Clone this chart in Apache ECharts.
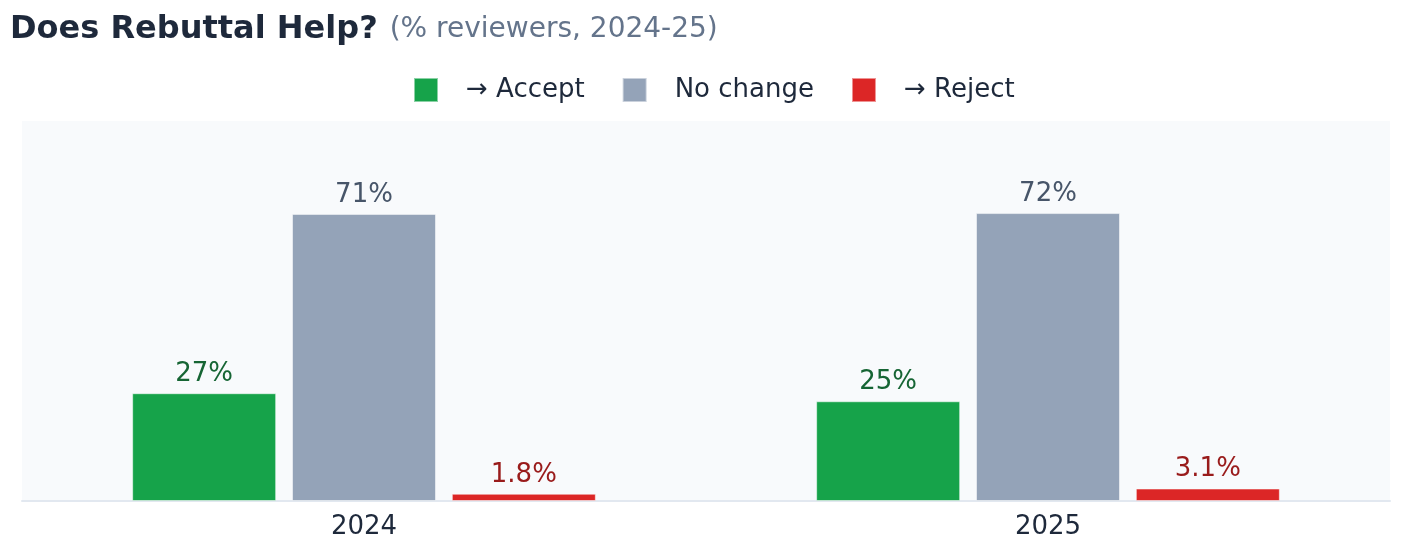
<!DOCTYPE html>
<html>
<head>
<meta charset="utf-8">
<script src="https://cdn.jsdelivr.net/npm/echarts@6/dist/echarts.min.js"></script>
<style>
html, body { margin: 0; padding: 0; background: #fff; }
#chart { width: 1402px; height: 548px; }
</style>
</head>
<body>
<div id="chart"></div>
<script>
var years = ['2024', '2025'];
var seriesNames = ['→ Accept', 'No change', '→ Reject'];
var acceptPct = [26.8, 24.8];
var noChangePct = [71.4, 71.6];
var rejectPct = [1.8, 3.1];

var barColors = ['#16a34a', '#94a3b8', '#dc2626'];
var labelColors = ['#166534', '#475569', '#991b1b'];

function fmtPct(p) {
    var v = p.value;
    return (v >= 10 ? Math.round(v) : v.toFixed(1)) + '%';
}

function makeBar(name, data, i) {
    return {
        name: name,
        type: 'bar',
        data: data,
        barWidth: 144,
        barGap: '11%',
        itemStyle: {
            color: barColors[i],
            borderColor: 'rgba(255,255,255,0.5)',
            borderWidth: 1
        },
        label: {
            show: true,
            position: 'top',
            distance: 6,
            formatter: fmtPct,
            color: labelColors[i],
            fontSize: 26,
            fontFamily: 'DejaVu Sans'
        }
    };
}

var myChart = echarts.init(document.getElementById('chart'));
var option = {
    animation: false,
    title: {
        text: '{a|Does Rebuttal Help?}{b|(% reviewers, 2024-25)}',
        left: 5,
        top: 9,
        textStyle: {
            rich: {
                a: {
                    fontFamily: 'DejaVu Sans',
                    fontSize: 32,
                    fontWeight: 'bold',
                    color: '#1e293b'
                },
                b: {
                    fontFamily: 'DejaVu Sans',
                    fontSize: 28,
                    fontWeight: 'normal',
                    color: '#64748b',
                    padding: [0, 0, 0, 12]
                }
            }
        }
    },
    legend: {
        data: seriesNames,
        top: 72,
        left: 408,
        itemWidth: 24,
        itemHeight: 24,
        itemGap: 37,
        icon: 'rect',
        textStyle: {
            fontFamily: 'DejaVu Sans',
            fontSize: 26,
            color: '#1e293b',
            padding: [0, 0, 0, 23]
        }
    },
    grid: {
        show: true,
        left: 22,
        right: 12,
        top: 121,
        bottom: 47,
        backgroundColor: '#f8fafc',
        borderWidth: 0
    },
    xAxis: {
        type: 'category',
        data: years,
        axisTick: { show: false },
        axisLine: { lineStyle: { color: '#e2e8f0', width: 2 } },
        axisLabel: {
            fontFamily: 'DejaVu Sans',
            fontSize: 26,
            color: '#1e293b',
            margin: 13
        }
    },
    yAxis: {
        type: 'value',
        min: 0,
        max: 94.5,
        show: false,
        splitLine: { show: false }
    },
    series: [
        makeBar(seriesNames[0], acceptPct, 0),
        makeBar(seriesNames[1], noChangePct, 1),
        makeBar(seriesNames[2], rejectPct, 2)
    ]
};
myChart.setOption(option);
</script>
</body>
</html>
